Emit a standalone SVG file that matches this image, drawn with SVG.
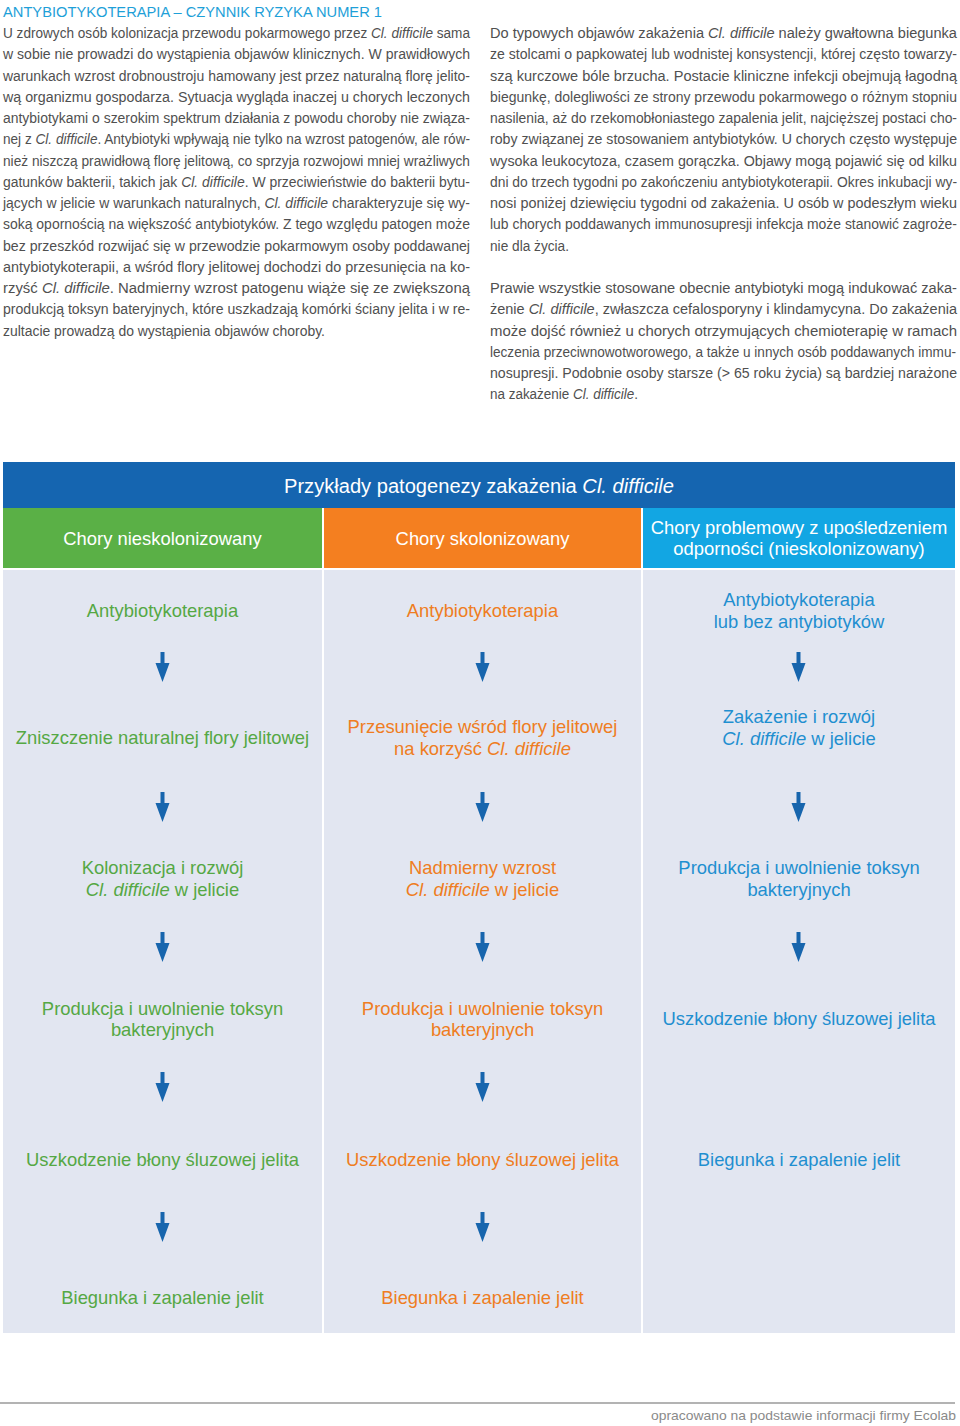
<svg xmlns="http://www.w3.org/2000/svg" width="960" height="1426" viewBox="0 0 960 1426">
<style>
.p{font-family:"Liberation Sans",Arial,sans-serif;font-size:14px;fill:#505050}
.t{fill:#1ea0d8;font-size:15px}
.f{fill:#8a8a8a;font-size:13px}
.i{font-style:italic}
.n{font-family:"Liberation Sans",Arial,sans-serif;font-size:18.4px;text-anchor:middle}
.g{fill:#55a844}.o{fill:#ef7d22}.b{fill:#1f8fd0}
.w{fill:#fff}
.arr{fill:#1765ad}
</style>
<defs>
<path id="arrow" d="M-2,-30 h4 v11 h5 l-7,19 l-7,-19 h5 z"/>
</defs>
<rect width="960" height="1426" fill="#fff"/>
<g id="text-left">
<text class="p t" x="3" y="16.5" textLength="379" lengthAdjust="spacingAndGlyphs">ANTYBIOTYKOTERAPIA – CZYNNIK RYZYKA NUMER 1</text>
<text class="p" x="3" y="38" textLength="467" lengthAdjust="spacingAndGlyphs">U zdrowych osób kolonizacja przewodu pokarmowego przez <tspan class="i">Cl. difficile</tspan> sama</text>
<text class="p" x="3" y="59.25" textLength="467" lengthAdjust="spacingAndGlyphs">w sobie nie prowadzi do wystąpienia objawów klinicznych. W prawidłowych</text>
<text class="p" x="3" y="80.5" textLength="467" lengthAdjust="spacingAndGlyphs">warunkach wzrost drobnoustroju hamowany jest przez naturalną florę jelito-</text>
<text class="p" x="3" y="101.75" textLength="467" lengthAdjust="spacingAndGlyphs">wą organizmu gospodarza. Sytuacja wygląda inaczej u chorych leczonych</text>
<text class="p" x="3" y="123" textLength="467" lengthAdjust="spacingAndGlyphs">antybiotykami o szerokim spektrum działania z powodu choroby nie związa-</text>
<text class="p" x="3" y="144.25" textLength="467" lengthAdjust="spacingAndGlyphs">nej z <tspan class="i">Cl. difficile</tspan>. Antybiotyki wpływają nie tylko na wzrost patogenów, ale rów-</text>
<text class="p" x="3" y="165.5" textLength="467" lengthAdjust="spacingAndGlyphs">nież niszczą prawidłową florę jelitową, co sprzyja rozwojowi mniej wrażliwych</text>
<text class="p" x="3" y="186.75" textLength="467" lengthAdjust="spacingAndGlyphs">gatunków bakterii, takich jak <tspan class="i">Cl. difficile</tspan>. W przeciwieństwie do bakterii bytu-</text>
<text class="p" x="3" y="208" textLength="467" lengthAdjust="spacingAndGlyphs">jących w jelicie w warunkach naturalnych, <tspan class="i">Cl. difficile</tspan> charakteryzuje się wy-</text>
<text class="p" x="3" y="229.25" textLength="467" lengthAdjust="spacingAndGlyphs">soką opornością na większość antybiotyków. Z tego względu patogen może</text>
<text class="p" x="3" y="250.5" textLength="467" lengthAdjust="spacingAndGlyphs">bez przeszkód rozwijać się w przewodzie pokarmowym osoby poddawanej</text>
<text class="p" x="3" y="271.75" textLength="467" lengthAdjust="spacingAndGlyphs">antybiotykoterapii, a wśród flory jelitowej dochodzi do przesunięcia na ko-</text>
<text class="p" x="3" y="293" textLength="467" lengthAdjust="spacingAndGlyphs">rzyść <tspan class="i">Cl. difficile</tspan>. Nadmierny wzrost patogenu wiąże się ze zwiększoną</text>
<text class="p" x="3" y="314.25" textLength="467" lengthAdjust="spacingAndGlyphs">produkcją toksyn bateryjnych, które uszkadzają komórki ściany jelita i w re-</text>
<text class="p" x="3" y="335.5" textLength="322" lengthAdjust="spacingAndGlyphs">zultacie prowadzą do wystąpienia objawów choroby.</text>
</g>
<g id="text-right">
<text class="p" x="490" y="38" textLength="467" lengthAdjust="spacingAndGlyphs">Do typowych objawów zakażenia <tspan class="i">Cl. difficile</tspan> należy gwałtowna biegunka</text>
<text class="p" x="490" y="59.25" textLength="467" lengthAdjust="spacingAndGlyphs">ze stolcami o papkowatej lub wodnistej konsystencji, której często towarzy-</text>
<text class="p" x="490" y="80.5" textLength="467" lengthAdjust="spacingAndGlyphs">szą kurczowe bóle brzucha. Postacie kliniczne infekcji obejmują łagodną</text>
<text class="p" x="490" y="101.75" textLength="467" lengthAdjust="spacingAndGlyphs">biegunkę, dolegliwości ze strony przewodu pokarmowego o różnym stopniu</text>
<text class="p" x="490" y="123" textLength="467" lengthAdjust="spacingAndGlyphs">nasilenia, aż do rzekomobłoniastego zapalenia jelit, najcięższej postaci cho-</text>
<text class="p" x="490" y="144.25" textLength="467" lengthAdjust="spacingAndGlyphs">roby związanej ze stosowaniem antybiotyków. U chorych często występuje</text>
<text class="p" x="490" y="165.5" textLength="467" lengthAdjust="spacingAndGlyphs">wysoka leukocytoza, czasem gorączka. Objawy mogą pojawić się od kilku</text>
<text class="p" x="490" y="186.75" textLength="467" lengthAdjust="spacingAndGlyphs">dni do trzech tygodni po zakończeniu antybiotykoterapii. Okres inkubacji wy-</text>
<text class="p" x="490" y="208" textLength="467" lengthAdjust="spacingAndGlyphs">nosi poniżej dziewięciu tygodni od zakażenia. U osób w podeszłym wieku</text>
<text class="p" x="490" y="229.25" textLength="467" lengthAdjust="spacingAndGlyphs">lub chorych poddawanych immunosupresji infekcja może stanowić zagroże-</text>
<text class="p" x="490" y="250.5" textLength="79" lengthAdjust="spacingAndGlyphs">nie dla życia.</text>
<text class="p" x="490" y="293" textLength="467" lengthAdjust="spacingAndGlyphs">Prawie wszystkie stosowane obecnie antybiotyki mogą indukować zaka-</text>
<text class="p" x="490" y="314.25" textLength="467" lengthAdjust="spacingAndGlyphs">żenie <tspan class="i">Cl. difficile</tspan>, zwłaszcza cefalosporyny i klindamycyna. Do zakażenia</text>
<text class="p" x="490" y="335.5" textLength="467" lengthAdjust="spacingAndGlyphs">może dojść również u chorych otrzymujących chemioterapię w ramach</text>
<text class="p" x="490" y="356.75" textLength="466" lengthAdjust="spacingAndGlyphs">leczenia przeciwnowotworowego, a także u innych osób poddawanych immu-</text>
<text class="p" x="490" y="378" textLength="467" lengthAdjust="spacingAndGlyphs">nosupresji. Podobnie osoby starsze (&gt; 65 roku życia) są bardziej narażone</text>
<text class="p" x="490" y="399.25" textLength="148" lengthAdjust="spacingAndGlyphs">na zakażenie <tspan class="i">Cl. difficile</tspan>.</text>
</g>
<g id="table-bg">
<rect x="3" y="462" width="952" height="46" fill="#1565b0"/>
<rect x="3" y="508" width="319" height="60" fill="#5ab046"/>
<rect x="324" y="508" width="317" height="60" fill="#f47f20"/>
<rect x="643" y="508" width="312" height="60" fill="#12a6e3"/>
<rect x="3" y="570" width="319" height="763" fill="#e2e6f1"/>
<rect x="324" y="570" width="317" height="763" fill="#e2e6f1"/>
<rect x="643" y="570" width="312" height="763" fill="#e2e6f1"/>
</g>
<g id="title">
<text class="n w" x="479" y="493" style="font-size:20px" textLength="390" lengthAdjust="spacingAndGlyphs">Przykłady patogenezy zakażenia <tspan class="i">Cl. difficile</tspan></text>
</g>
<g id="head-1"><text class="n w" x="162.5" y="545">Chory nieskolonizowany</text></g>
<g id="head-2"><text class="n w" x="482.5" y="545">Chory skolonizowany</text></g>
<g id="head-3"><text class="n w" x="799" y="534">Chory problemowy z upośledzeniem</text><text class="n w" x="799" y="555">odporności (nieskolonizowany)</text></g>

<g id="c1-n1"><text class="n g" x="162.5" y="617">Antybiotykoterapia</text></g>
<g id="c1-n2"><text class="n g" x="162.5" y="744">Zniszczenie naturalnej flory jelitowej</text></g>
<g id="c1-n3"><text class="n g" x="162.5" y="874">Kolonizacja i rozwój</text><text class="n g" x="162.5" y="896"><tspan class="i">Cl. difficile</tspan> w jelicie</text></g>
<g id="c1-n4"><text class="n g" x="162.5" y="1015">Produkcja i uwolnienie toksyn</text><text class="n g" x="162.5" y="1036">bakteryjnych</text></g>
<g id="c1-n5"><text class="n g" x="162.5" y="1166">Uszkodzenie błony śluzowej jelita</text></g>
<g id="c1-n6"><text class="n g" x="162.5" y="1304">Biegunka i zapalenie jelit</text></g>

<g id="c2-n1"><text class="n o" x="482.5" y="617">Antybiotykoterapia</text></g>
<g id="c2-n2"><text class="n o" x="482.5" y="733">Przesunięcie wśród flory jelitowej</text><text class="n o" x="482.5" y="755">na korzyść <tspan class="i">Cl. difficile</tspan></text></g>
<g id="c2-n3"><text class="n o" x="482.5" y="874">Nadmierny wzrost</text><text class="n o" x="482.5" y="896"><tspan class="i">Cl. difficile</tspan> w jelicie</text></g>
<g id="c2-n4"><text class="n o" x="482.5" y="1015">Produkcja i uwolnienie toksyn</text><text class="n o" x="482.5" y="1036">bakteryjnych</text></g>
<g id="c2-n5"><text class="n o" x="482.5" y="1166">Uszkodzenie błony śluzowej jelita</text></g>
<g id="c2-n6"><text class="n o" x="482.5" y="1304">Biegunka i zapalenie jelit</text></g>

<g id="c3-n1"><text class="n b" x="799" y="606">Antybiotykoterapia</text><text class="n b" x="799" y="628">lub bez antybiotyków</text></g>
<g id="c3-n2"><text class="n b" x="799" y="723">Zakażenie i rozwój</text><text class="n b" x="799" y="745"><tspan class="i">Cl. difficile</tspan> w jelicie</text></g>
<g id="c3-n3"><text class="n b" x="799" y="874">Produkcja i uwolnienie toksyn</text><text class="n b" x="799" y="896">bakteryjnych</text></g>
<g id="c3-n4"><text class="n b" x="799" y="1025">Uszkodzenie błony śluzowej jelita</text></g>
<g id="c3-n5"><text class="n b" x="799" y="1166">Biegunka i zapalenie jelit</text></g>

<g id="connectors" class="arr">
<use href="#arrow" x="162.5" y="682"/>
<use href="#arrow" x="162.5" y="822"/>
<use href="#arrow" x="162.5" y="962"/>
<use href="#arrow" x="162.5" y="1102"/>
<use href="#arrow" x="162.5" y="1242"/>
<use href="#arrow" x="482.5" y="682"/>
<use href="#arrow" x="482.5" y="822"/>
<use href="#arrow" x="482.5" y="962"/>
<use href="#arrow" x="482.5" y="1102"/>
<use href="#arrow" x="482.5" y="1242"/>
<use href="#arrow" x="798.5" y="682"/>
<use href="#arrow" x="798.5" y="822"/>
<use href="#arrow" x="798.5" y="962"/>
</g>
<g id="footer">
<line x1="0" y1="1403" x2="955" y2="1403" stroke="#9a9a9a" stroke-width="1.5"/>
<text class="p f" x="651" y="1420" textLength="305" lengthAdjust="spacingAndGlyphs">opracowano na podstawie informacji firmy Ecolab</text>
</g>
</svg>
